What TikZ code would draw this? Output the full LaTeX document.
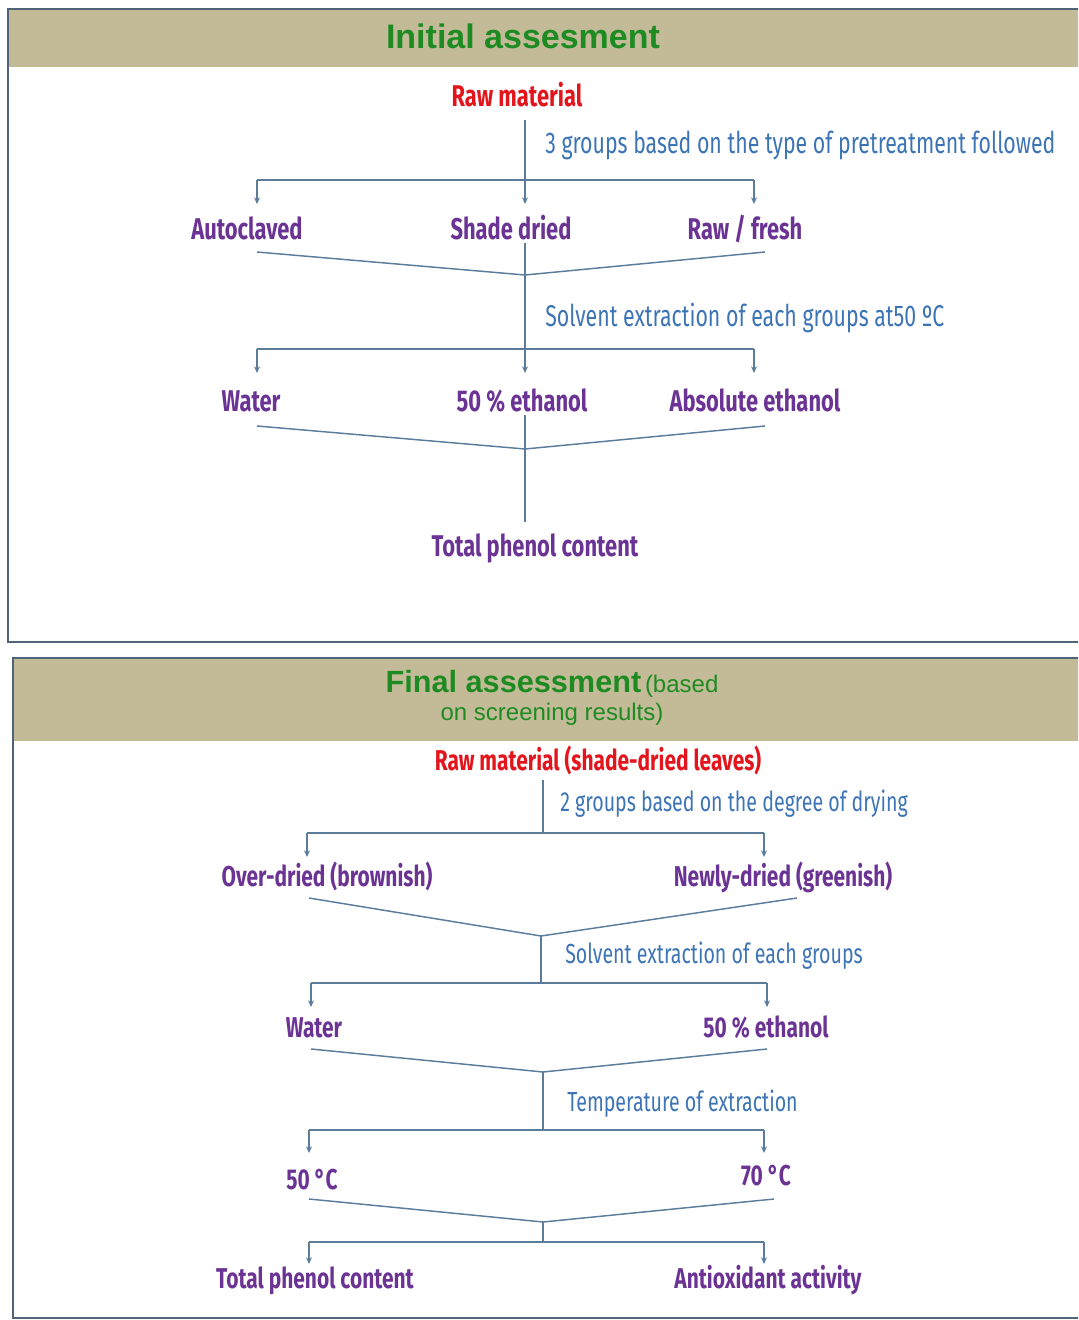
\documentclass[tikz,border=0pt]{standalone}
\usepackage{fontspec}
\setmainfont{Liberation Sans}
\newfontfamily\condb[FakeStretch=0.73]{Fira Sans}
\newfontfamily\condr[FakeStretch=0.71]{Fira Sans}
\usetikzlibrary{arrows.meta}
\definecolor{hdrC}{HTML}{C3BB98}
\definecolor{frameC}{HTML}{4F6478}
\definecolor{titleC}{HTML}{1E8B22}
\definecolor{redC}{HTML}{E3141B}
\definecolor{purpC}{HTML}{6B3494}
\definecolor{bluC}{HTML}{3D74B5}
\definecolor{lineC}{HTML}{5C7C9C}
\newcommand\itemfont{\condb\bfseries\fontsize{22.5}{27}\selectfont}
\newcommand\labfont{\condr\fontsize{22.5}{27}\selectfont}
\newcommand\itemfontb{\condb\bfseries\fontsize{21.5}{26}\selectfont}
\newcommand\labfontb{\condr\fontsize{20.7}{25}\selectfont}
\tikzset{
  conn/.style={draw=lineC, line width=1.1pt},
  arr/.style={draw=lineC, line width=1.1pt, -{Stealth[length=5pt,width=4.5pt]}},
  item/.style={text=purpC, font=\itemfont, anchor=base, inner sep=0pt},
  rawtxt/.style={text=redC, font=\itemfont, anchor=base, inner sep=0pt},
  lab/.style={text=bluC, font=\labfont, anchor=base west, inner sep=0pt},
  itemb/.style={item, font=\itemfontb},
  rawtxtb/.style={rawtxt, font=\itemfontb},
  labb/.style={lab, font=\labfontb},
  frame/.style={draw=frameC, line width=2.2pt},
  hdr/.style={fill=hdrC},
}
\begin{document}
\begin{tikzpicture}[x=0.75pt,y=-0.75pt]
\useasboundingbox (0,0) rectangle (1078,1320);
\clip (0,0) rectangle (1078,1320);
% ---------- top panel ----------
\fill[hdr] (8,9) rectangle (1090,67);
\draw[frame] (8,9) rectangle (1090,642);
\node[text=titleC, font=\bfseries\fontsize{25.5}{30}\selectfont, inner sep=0pt] (t1) at (523,36) {Initial assesment};

\node[rawtxt] (rm) at (517,107) {Raw material};
\node[lab] (l1) at (545,153) {3 groups based on the type of pretreatment followed};
\node[item] (i1) at (247,239) {Autoclaved};
\node[item] (i2) at (511,239) {Shade dried};
\node[item] (i3) at (745,239) {Raw / fresh};
\node[lab] (l2) at (545,326) {Solvent extraction of each groups at50 ºC};
\node[item] (w1) at (251,411) {Water};
\node[item] (e1) at (522,411) {50 \% ethanol};
\node[item] (ae) at (755,411) {Absolute ethanol};
\node[item] (tp1) at (535,556) {Total phenol content};

\coordinate (a0) at (525,120);
\coordinate (a1) at (525,180);
\coordinate (aL) at (257,180);
\coordinate (aR) at (754,180);
\coordinate (eL) at (257,204);
\coordinate (eM) at (525,204);
\coordinate (eR) at (754,204);
\draw[conn] (a0) -- (a1);
\draw[conn] (aL) -- (aR);
\draw[arr] (aL) -- (eL);
\draw[arr] (a1) -- (eM);
\draw[arr] (aR) -- (eR);

\coordinate (m1L) at (257,252);
\coordinate (m1) at (525,275);
\coordinate (m1R) at (765,252);
\coordinate (v1) at (525,243);
\coordinate (b1) at (525,349);
\coordinate (b1L) at (257,349);
\coordinate (b1R) at (754,349);
\coordinate (f1L) at (257,373);
\coordinate (f1M) at (525,373);
\coordinate (f1R) at (754,373);
\draw[conn] (m1L) -- (m1) -- (m1R);
\draw[conn] (v1) -- (b1);
\draw[conn] (b1L) -- (b1R);
\draw[arr] (b1L) -- (f1L);
\draw[arr] (b1) -- (f1M);
\draw[arr] (b1R) -- (f1R);

\coordinate (m2L) at (257,426);
\coordinate (m2) at (525,449);
\coordinate (m2R) at (765,426);
\coordinate (v2) at (525,415);
\coordinate (v2e) at (525,522);
\draw[conn] (m2L) -- (m2) -- (m2R);
\draw[conn] (v2) -- (v2e);

% ---------- bottom panel ----------
\fill[hdr] (13,659) rectangle (1090,741);
\draw[frame] (13,658) rectangle (1090,1318);
\node[text=titleC, anchor=base, inner sep=0pt] (t2a) at (552,692)
  {{\bfseries\fontsize{23}{27}\selectfont Final assessment} {\fontsize{18}{22}\selectfont(based}};
\node[text=titleC, anchor=base, inner sep=0pt, font=\fontsize{18}{22}\selectfont] (t2b) at (552,720) {on screening results)};

\node[rawtxtb] (rm2) at (598,770) {Raw material (shade-dried leaves)};
\node[labb] (l3) at (560,811) {2 groups based on the degree of drying};
\node[itemb] (od) at (327,886) {Over-dried (brownish)};
\node[itemb] (nd) at (783,886) {Newly-dried (greenish)};
\node[labb] (l4) at (565,963) {Solvent extraction of each groups};
\node[itemb] (w2) at (314,1037) {Water};
\node[itemb] (e2) at (766,1037) {50 \% ethanol};
\node[labb] (l5) at (567,1111) {Temperature of extraction};
\node[itemb] (c50) at (312,1189) {50 °C};
\node[itemb] (c70) at (766,1185) {70 °C};
\node[itemb] (tp2) at (315,1288) {Total phenol content};
\node[itemb] (ao) at (768,1288) {Antioxidant activity};

\coordinate (p0) at (543,780);
\coordinate (p1) at (543,833);
\coordinate (p1L) at (307,833);
\coordinate (p1R) at (764,833);
\coordinate (q1L) at (307,857);
\coordinate (q1R) at (764,857);
\draw[conn] (p0) -- (p1);
\draw[conn] (p1L) -- (p1R);
\draw[arr] (p1L) -- (q1L);
\draw[arr] (p1R) -- (q1R);

\coordinate (n1L) at (309,898);
\coordinate (n1) at (541,936);
\coordinate (n1R) at (797,898);
\coordinate (p2) at (541,983);
\coordinate (p2L) at (311,983);
\coordinate (p2R) at (767,983);
\coordinate (q2L) at (311,1007);
\coordinate (q2R) at (767,1007);
\draw[conn] (n1L) -- (n1) -- (n1R);
\draw[conn] (n1) -- (p2);
\draw[conn] (p2L) -- (p2R);
\draw[arr] (p2L) -- (q2L);
\draw[arr] (p2R) -- (q2R);

\coordinate (n2L) at (311,1049);
\coordinate (n2) at (543,1072);
\coordinate (n2R) at (767,1049);
\coordinate (p3) at (543,1130);
\coordinate (p3L) at (309,1130);
\coordinate (p3R) at (764,1130);
\coordinate (q3L) at (309,1153);
\coordinate (q3R) at (764,1153);
\draw[conn] (n2L) -- (n2) -- (n2R);
\draw[conn] (n2) -- (p3);
\draw[conn] (p3L) -- (p3R);
\draw[arr] (p3L) -- (q3L);
\draw[arr] (p3R) -- (q3R);

\coordinate (n3L) at (309,1199);
\coordinate (n3) at (543,1222);
\coordinate (n3R) at (774,1199);
\coordinate (p4) at (543,1242);
\coordinate (p4L) at (309,1242);
\coordinate (p4R) at (764,1242);
\coordinate (q4L) at (309,1264);
\coordinate (q4R) at (764,1264);
\draw[conn] (n3L) -- (n3) -- (n3R);
\draw[conn] (n3) -- (p4);
\draw[conn] (p4L) -- (p4R);
\draw[arr] (p4L) -- (q4L);
\draw[arr] (p4R) -- (q4R);
\end{tikzpicture}
\end{document}
